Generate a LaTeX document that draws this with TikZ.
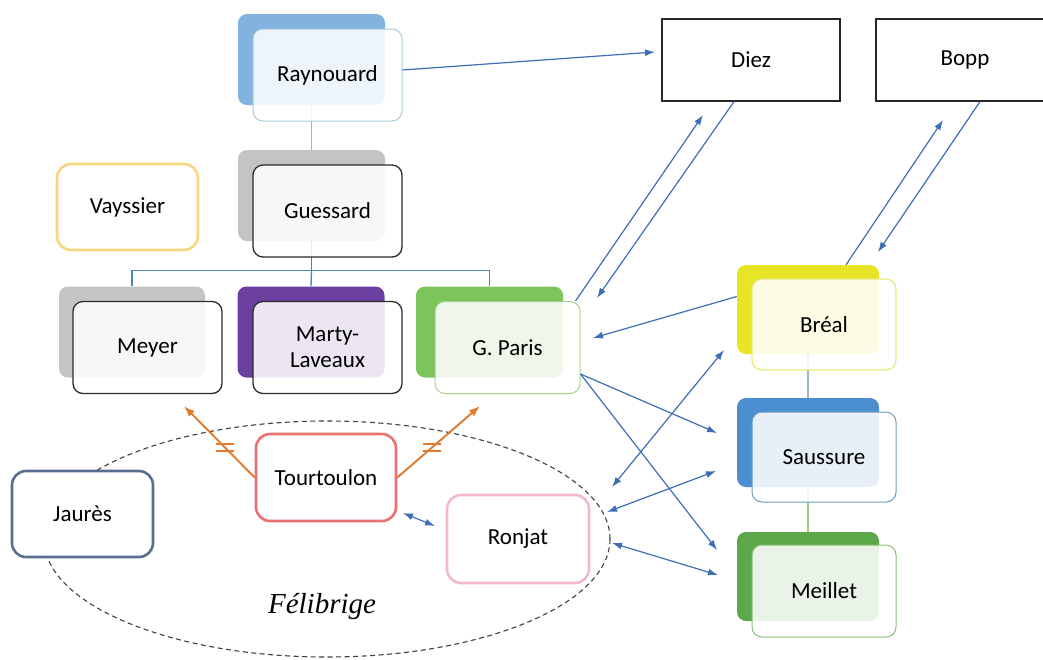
\documentclass[tikz,border=0pt]{standalone}
\usepackage{fontspec}
\setmainfont{Carlito}
\newfontfamily\felfont{Liberation Serif}
\usetikzlibrary{arrows.meta,shapes.geometric,calc}
\definecolor{arrowblue}{HTML}{3D6FB6}
\definecolor{orangeline}{HTML}{E07A2E}
\definecolor{raybk}{HTML}{82B3E0}
\definecolor{raybord}{HTML}{A9CDD8}
\definecolor{grayb}{HTML}{C4C4C4}
\definecolor{darkbord}{HTML}{2B2B2B}
\definecolor{purpb}{HTML}{6B3FA0}
\definecolor{greenb}{HTML}{7DC45B}
\definecolor{gpbord}{HTML}{A8D08D}
\definecolor{yellowb}{HTML}{E8E527}
\definecolor{brbord}{HTML}{E8E87A}
\definecolor{blueb}{HTML}{4B8FD0}
\definecolor{sabord}{HTML}{6A9CC0}
\definecolor{greenb2}{HTML}{5DA84A}
\definecolor{mebord}{HTML}{8CBF7B}
\definecolor{vaycol}{HTML}{F7D67E}
\definecolor{jaucol}{HTML}{5B6E92}
\definecolor{toucol}{HTML}{EB7070}
\definecolor{roncol}{HTML}{F4B8CC}
\definecolor{treeblue}{HTML}{4F81BD}
\definecolor{treegreen}{HTML}{9BC87A}
\definecolor{treegray}{HTML}{9DB7C5}
\begin{document}
\begin{tikzpicture}[x=1pt,y=-1pt,
  >={Latex[length=10pt,width=7pt]},
  every node/.style={font=\fontsize{23}{26}\selectfont},
  backbox/.style={rounded corners=9pt, minimum width=147pt, minimum height=91pt, inner sep=0pt, draw=none},
  frontbox/.style={rounded corners=10pt, minimum width=149pt, minimum height=92pt, inner sep=0pt, fill=white, fill opacity=0.87, text opacity=1, line width=1.3pt, align=center},
  plainbox/.style={rounded corners=14pt, fill=white, minimum width=141pt, minimum height=86pt, inner sep=0pt, line width=2.6pt},
  rectbox/.style={draw=black!85, line width=1.2pt, minimum width=178pt, minimum height=82pt, inner sep=0pt, fill=white},
  arr/.style={draw=arrowblue, line width=1.2pt},
  oarr/.style={draw=orangeline, line width=1.9pt, -{Latex[length=11pt,width=8pt]}},
  omark/.style={draw=orangeline, line width=1.8pt},
  link/.style={line width=1.3pt}
]
\useasboundingbox (0,0) rectangle (1043,659);
\fill[white] (0,0) rectangle (1043,659);

% Felibrige ellipse
\node[draw=black!75, dash pattern=on 5pt off 3.5pt, line width=1.1pt, ellipse, minimum width=566pt, minimum height=236pt, inner sep=0pt] (felibrige) at (327,539) {};
\node[font=\felfont\itshape\fontsize{29}{32}\selectfont] (felabel) at (322,606) {Félibrige};

% back boxes
\node[backbox, fill=raybk] (raynouard-b) at (311.5,59.5) {};
\node[backbox, fill=grayb] (guessard-b) at (311.5,195.5) {};
\node[backbox, fill=grayb, minimum width=146pt] (meyer-b) at (132,332) {};
\node[backbox, fill=purpb] (marty-b) at (311,332) {};
\node[backbox, fill=greenb] (gparis-b) at (489.5,332) {};
\node[backbox, fill=yellowb, minimum width=142pt, minimum height=89pt] (breal-b) at (808,309.5) {};
\node[backbox, fill=blueb, minimum width=142pt, minimum height=89pt] (saussure-b) at (808,442.5) {};
\node[backbox, fill=greenb2, minimum width=142pt, minimum height=89pt] (meillet-b) at (808,576.5) {};

% tree links (behind front boxes)
\draw[link, treegreen] (raynouard-b.south) -- (guessard-b.north);
\draw[link, treeblue] (guessard-b.south) -- ++(0,29) coordinate (tj);
\draw[link, treeblue] (meyer-b.north) |- (tj) -| (gparis-b.north);
\draw[link, treeblue] (tj) -- (marty-b.north);
\draw[link, treegray] (breal-b.south) -- (saussure-b.north);
\draw[link, treegreen] (saussure-b.south) -- (meillet-b.north);

% front boxes
\node[frontbox, draw=raybord, line width=1pt] (raynouard) at (327.5,75) {Raynouard};
\node[frontbox, draw=darkbord] (guessard) at (327.5,211) {Guessard};
\node[frontbox, draw=darkbord] (meyer) at (147.5,347.5) {Meyer};
\node[frontbox, draw=darkbord] (marty) at (327.5,347.5) {Marty-\\Laveaux};
\node[frontbox, draw=gpbord, line width=1pt, minimum width=145pt] (gparis) at (507.5,347.5) {G. Paris};
\node[frontbox, draw=brbord, line width=1.2pt, minimum width=144pt, minimum height=91pt] (breal) at (824,324.5) {Bréal};
\node[frontbox, draw=sabord, line width=1pt, minimum width=144pt, minimum height=90pt] (saussure) at (824,457) {Saussure};
\node[frontbox, draw=mebord, line width=1pt, minimum width=144pt, minimum height=92pt] (meillet) at (824,591) {Meillet};

% plain boxes
\node[plainbox, draw=vaycol] (vayssier) at (127.5,207) {Vayssier};
\node[plainbox, draw=jaucol] (jaures) at (82.5,514) {Jaurès};
\node[plainbox, draw=toucol, minimum width=140pt, minimum height=87pt] (tourtoulon) at (326,477.5) {Tourtoulon};
\node[plainbox, draw=roncol, minimum width=142pt, minimum height=88pt] (ronjat) at (518,539) {Ronjat};

% rectangles
\node[rectbox] (diez) at (751,60) {Diez};
\node[rectbox] (bopp) at (965,60) {Bopp};

% free arrow ends
\coordinate (diez-in) at (655,52);
\coordinate (diez-tip) at (703,115);
\coordinate (gp-tip) at (597,298);
\coordinate (bopp-tip) at (943,120);
\coordinate (breal-tip) at (878,252);
\coordinate (gp-tip2) at (593,338);
\coordinate (sa-tip) at (717,433);
\coordinate (me-tip) at (717,550);
\coordinate (r1a) at (612,487);
\coordinate (r1b) at (724,350);
\coordinate (r2a) at (607,512);
\coordinate (r2b) at (716,471);
\coordinate (r3a) at (612,543);
\coordinate (r3b) at (718,575);
\coordinate (t1a) at (403,513);
\coordinate (t1b) at (435,526);
\coordinate (meyer-tip) at (184,406);
\coordinate (gparis-tip) at (480,406);

% blue arrows
\draw[arr, ->] ($(raynouard.east)+(0,-5)$) -- (diez-in);
\draw[arr, ->] ($(gparis.north east)+(-5,0)$) -- (diez-tip);
\draw[arr, ->] ($(diez.south)+(-17,0)$) -- (gp-tip);
\draw[arr, ->] ($(breal-b.north)+(38,0)$) -- (bopp-tip);
\draw[arr, ->] ($(bopp.south)+(15,0)$) -- (breal-tip);
\draw[arr, ->] ($(breal-b.west)+(0,-13)$) -- (gp-tip2);
\draw[arr, ->] ($(gparis.south east)+(0,-20)$) -- (sa-tip);
\draw[arr, ->] ($(gparis.south east)+(0,-20)$) -- (me-tip);
\draw[arr, <->] (r1a) -- (r1b);
\draw[arr, <->] (r2a) -- (r2b);
\draw[arr, <->] (r3a) -- (r3b);
\draw[arr, <->] (t1a) -- (t1b);

% orange arrows with "not equal" marks
\draw[oarr] (tourtoulon.west) -- coordinate[pos=0.425] (m1) (meyer-tip);
\draw[oarr] (tourtoulon.east) -- coordinate[pos=0.425] (m2) (gparis-tip);
\draw[omark] ($(m1)+(-9,-3.5)$) -- ($(m1)+(9,-3.5)$);
\draw[omark] ($(m1)+(-9,3.5)$) -- ($(m1)+(9,3.5)$);
\draw[omark] ($(m2)+(-9,-3.5)$) -- ($(m2)+(9,-3.5)$);
\draw[omark] ($(m2)+(-9,3.5)$) -- ($(m2)+(9,3.5)$);
\end{tikzpicture}
\end{document}
